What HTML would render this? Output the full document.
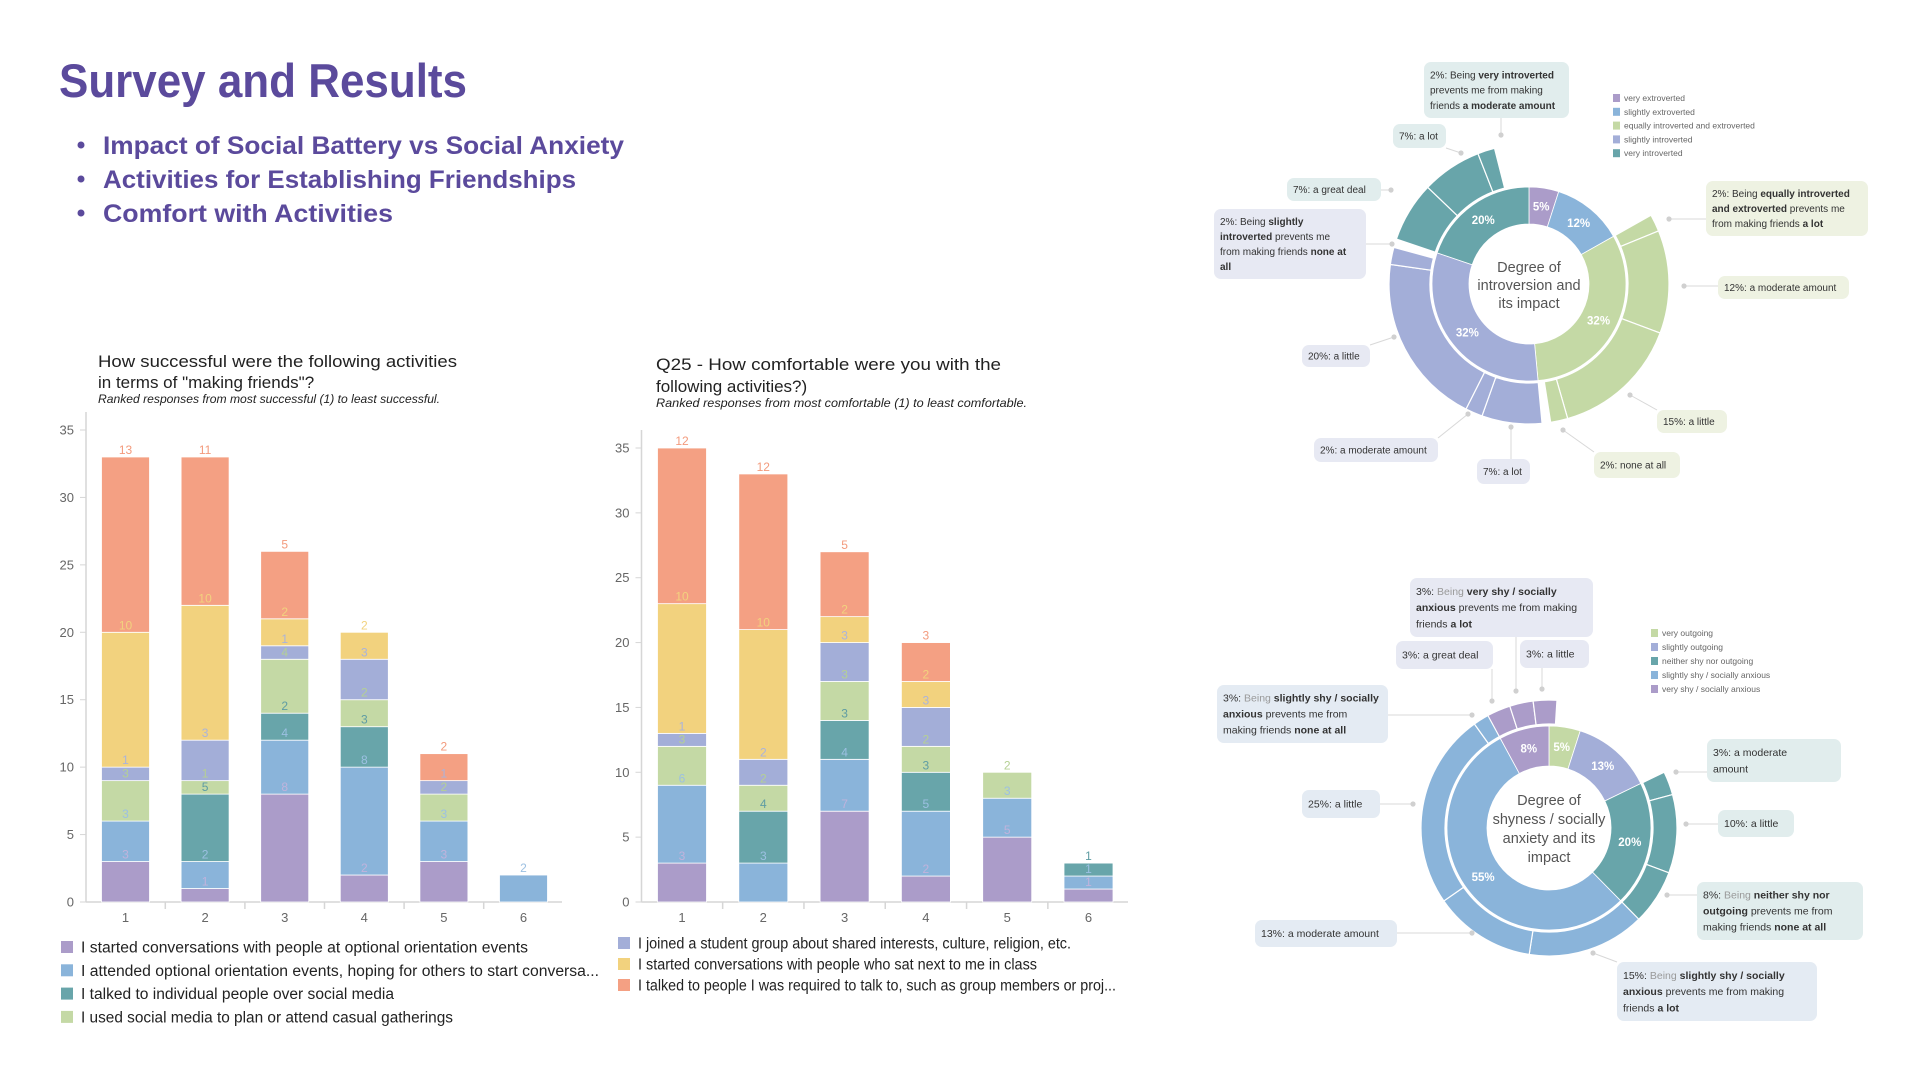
<!DOCTYPE html>
<html><head><meta charset="utf-8"><style>
html,body{margin:0;padding:0;background:#fff;}
svg{display:block;font-family:"Liberation Sans",sans-serif;}
</style></head><body>
<svg id="root" width="1920" height="1080" viewBox="0 0 1920 1080" xmlns="http://www.w3.org/2000/svg">
<g>
<text x="59" y="97" font-size="47" font-weight="bold" fill="#5b4a9c" textLength="408" lengthAdjust="spacingAndGlyphs">Survey and Results</text>
<circle cx="81" cy="145" r="3.5" fill="#5b4a9c"/>
<text x="103" y="154" font-size="25" font-weight="bold" fill="#5b4a9c" textLength="521" lengthAdjust="spacingAndGlyphs">Impact of Social Battery vs Social Anxiety</text>
<circle cx="81" cy="179" r="3.5" fill="#5b4a9c"/>
<text x="103" y="188" font-size="25" font-weight="bold" fill="#5b4a9c" textLength="473" lengthAdjust="spacingAndGlyphs">Activities for Establishing Friendships</text>
<circle cx="81" cy="213" r="3.5" fill="#5b4a9c"/>
<text x="103" y="222" font-size="25" font-weight="bold" fill="#5b4a9c" textLength="290" lengthAdjust="spacingAndGlyphs">Comfort with Activities</text>
</g>
<g>
<text x="98" y="367" font-size="17" fill="#222" textLength="359" lengthAdjust="spacingAndGlyphs">How successful were the following activities</text>
<text x="98" y="388" font-size="17" fill="#222">in terms of "making friends"?</text>
<text x="98" y="403" font-size="12" font-style="italic" fill="#222" textLength="342" lengthAdjust="spacingAndGlyphs">Ranked responses from most successful (1) to least successful.</text>
<g id="chartA"></g>
</g>
<g>
<text x="656" y="370" font-size="17" fill="#222" textLength="345" lengthAdjust="spacingAndGlyphs">Q25 - How comfortable were you with the</text>
<text x="656" y="392" font-size="17" fill="#222">following activities?)</text>
<text x="656" y="407" font-size="12" font-style="italic" fill="#222" textLength="371" lengthAdjust="spacingAndGlyphs">Ranked responses from most comfortable (1) to least comfortable.</text>
<g id="chartB"></g>
</g>
<g id="donut1"></g>
<g id="donut2"></g>
</svg>
<script>
const NS="http://www.w3.org/2000/svg";
// ---------- bar chart data ----------
const categories=["1","2","3","4","5","6"];
const seriesNames=["started-conversations-orientation","attended-orientation","talked-social-media","social-media-gatherings","joined-student-group","sat-next-in-class","required-to-talk"];
const yTicks=[0,5,10,15,20,25,30,35];
// Success chart series values (per rank 1..6), stacked bottom-up
const succStarted=[3,1,8,2,3,0];
const succAttended=[3,2,4,8,3,2];
const succTalkedSM=[0,5,2,3,0,0];
const succGatherSM=[3,1,4,2,2,0];
const succGroup=[1,3,1,3,1,0];
const succSatNext=[10,10,2,2,0,0];
const succRequired=[13,11,5,0,2,0];
// Comfort chart series values
const comfStarted=[3,0,7,2,5,1];
const comfAttended=[6,3,4,5,3,1];
const comfTalkedSM=[0,4,3,3,0,1];
const comfGatherSM=[3,2,3,2,2,0];
const comfGroup=[1,2,3,3,0,0];
const comfSatNext=[10,10,2,2,0,0];
const comfRequired=[12,12,5,3,0,0];
const legendA=["I started conversations with people at optional orientation events","I attended optional orientation events, hoping for others to start conversa...","I talked to individual people over social media","I used social media to plan or attend casual gatherings"];
const legendB=["I joined a student group about shared interests, culture, religion, etc.","I started conversations with people who sat next to me in class","I talked to people I was required to talk to, such as group members or proj..."];

const COLORS=["#ab9cc9","#8ab4da","#68a5aa","#c4d9a5","#a3aed8","#f2d27e","#f4a083"];
const LABELC=["#c0b3dc","#9cc0e2","#5e9ca3","#b5d094","#a9b3dc","#f2d27e","#f39a7c"];

function el(tag,attrs,parent){const e=document.createElementNS(NS,tag);for(const k in attrs)e.setAttribute(k,attrs[k]);parent.appendChild(e);return e;}

function barChart(g,series,cfg,legend,legendIdx,legendW){
  const y=v=>cfg.y0-(v/35)*(cfg.y0-cfg.y35);
  const x=i=>cfg.c0+i*cfg.step;
  const ax=el('line',{x1:cfg.ax,y1:cfg.y35-18,x2:cfg.ax,y2:cfg.y0,stroke:'#d6d6d6','stroke-width':1.5},g);
  
  const bx=el('line',{x1:cfg.ax,y1:cfg.y0,x2:cfg.axEnd,y2:cfg.y0,stroke:'#d6d6d6','stroke-width':1.5},g);
  
  yTicks.forEach(t=>{
    const tk=el('line',{x1:cfg.ax-6,y1:y(t),x2:cfg.ax,y2:y(t),stroke:'#d6d6d6'},g);
    
    const tl=el('text',{x:cfg.ax-12,y:y(t)+4.5,'font-size':13,fill:'#666','text-anchor':'end'},g);
    tl.textContent=t;
    
  });
  categories.forEach((c,i)=>{
    if(i>0){const tk=el('line',{x1:x(i)-cfg.step/2,y1:cfg.y0,x2:x(i)-cfg.step/2,y2:cfg.y0+7,stroke:'#d6d6d6','stroke-width':1.5},g);
      }
    const tl=el('text',{x:x(i),y:cfg.y0+20,'font-size':13,fill:'#666','text-anchor':'middle'},g);
    tl.textContent=c;
    
  });
  const labels=[];
  categories.forEach((c,i)=>{
    let acc=0;
    series.forEach((s,si)=>{
      const v=s[i]; if(!v) return;
      const top=acc+v;
      const r=el('rect',{x:x(i)-cfg.w/2,y:y(top),width:cfg.w,height:y(acc)-y(top),fill:COLORS[si],stroke:'#fff','stroke-width':0.8},g);
      
      
      labels.push([x(i),y(top)-3,v,si]);
      acc=top;
    });
  });
  labels.forEach(L=>{
    const t=el('text',{x:L[0],y:L[1],'font-size':12,fill:LABELC[L[3]],'text-anchor':'middle'},g);
    t.textContent=L[2];
    
    
  });
  legend.forEach((L,k)=>{
    const ly=cfg.legY+k*cfg.legStep;
    const sq=el('rect',{x:cfg.legX,y:ly-6,width:12,height:12,fill:COLORS[legendIdx[k]]},g);
    
    const t=el('text',{x:cfg.legX+20,y:ly+5.5,'font-size':15.5,fill:'#222',textLength:legendW[k],lengthAdjust:'spacingAndGlyphs'},g);
    t.textContent=L;
    
  });
}
barChart(document.getElementById('chartA'),[succStarted,succAttended,succTalkedSM,succGatherSM,succGroup,succSatNext,succRequired],
 {y0:902,y35:430,ax:86,axEnd:562,c0:125.5,step:79.6,w:48,legX:61,legY:947,legStep:23.3},legendA,[0,1,2,3],[447,518,313,372]);
barChart(document.getElementById('chartB'),[comfStarted,comfAttended,comfTalkedSM,comfGatherSM,comfGroup,comfSatNext,comfRequired],
 {y0:902,y35:448,ax:641.5,axEnd:1128,c0:682,step:81.3,w:49,legX:618,legY:943,legStep:21},legendB,[4,5,6],[433,399,478]);

// ---------- donut data ----------
const d1InnerLabels=["very extroverted","slightly extroverted","equally introverted and extroverted","slightly introverted","very introverted"];
const d1InnerPct=[5,12,32,32,20];
const d1OuterGreen=[2,12,15,2];
const d1OuterLav=[7,2,20,2];
const d1OuterTeal=[7,7,2];
const d2InnerLabels=["very outgoing","slightly outgoing","neither shy nor outgoing","slightly shy / socially anxious","very shy / socially anxious"];
const d2InnerPct=[5,13,20,55,8];
const d2OuterTeal=[3,10,8];
const d2OuterBlue=[15,13,25,3];
const d2OuterPurple=[3,3,3];

function pt(cx,cy,r,a){const t=a*Math.PI/180;return [cx+r*Math.sin(t),cy-r*Math.cos(t)];}
function arc(cx,cy,r0,r1,a0,a1){
  const p1=pt(cx,cy,r1,a0),p2=pt(cx,cy,r1,a1),p3=pt(cx,cy,r0,a1),p4=pt(cx,cy,r0,a0);
  const lg=(a1-a0)>180?1:0;
  return `M${p1}A${r1},${r1} 0 ${lg} 1 ${p2}L${p3}A${r0},${r0} 0 ${lg} 0 ${p4}Z`;
}
function donut(g,cfg){
  const tot=cfg.inner.reduce((a,b)=>a+b,0);const k=360/tot;
  const starts=[];let a=0;
  cfg.inner.forEach((p,i)=>{starts.push(a);
    const s=el('path',{d:arc(cfg.cx,cfg.cy,cfg.rh,cfg.rm,a,a+p*k),fill:cfg.colors[i],stroke:'#fff','stroke-width':0.8},g);
    
    
    const m=pt(cfg.cx,cfg.cy,(cfg.rh+cfg.rm)/2,a+p*k/2);
    const t=el('text',{x:m[0],y:m[1]+4,'font-size':11.5,'font-weight':'bold',fill:'#fff','text-anchor':'middle'},g);
    t.textContent=p+'%';
    
    a+=p*k;});
  cfg.outer.forEach(o=>{
    let b=starts[o.parent];
    o.vals.forEach(v=>{
      const s=el('path',{d:arc(cfg.cx,cfg.cy,cfg.rm+2,cfg.ro,b,b+v*k),fill:cfg.colors[o.parent],stroke:'#fff','stroke-width':1.2},g);
      
      
      b+=v*k;});
  });
  const c=el('circle',{cx:cfg.cx,cy:cfg.cy,r:cfg.rm+1,fill:'none',stroke:'#fff','stroke-width':1.5},g);
  
  cfg.center.forEach((l,i)=>{
    const t=el('text',{x:cfg.cx,y:cfg.cy+cfg.cy0+i*cfg.clh,'font-size':cfg.cfs,fill:'#555','text-anchor':'middle'},g);
    t.textContent=l;
  });
  cfg.names.forEach((n,i)=>{
    const ly=cfg.legY+i*cfg.legStep;
    const sq=el('rect',{x:cfg.legX,y:ly-4,width:7,height:8,fill:cfg.colors[cfg.legOrder[i]]},g);
    
    const t=el('text',{x:cfg.legX+11,y:ly+3,'font-size':8.5,fill:'#666'},g);
    t.textContent=cfg.names[cfg.legOrder[i]];
  });
  cfg.callouts.forEach(co=>{
    const [bx,by,bw,bh]=co.box;
    const qx=Math.max(bx,Math.min(co.dot[0],bx+bw)),qy=Math.max(by,Math.min(co.dot[1],by+bh));
    const ln=el('line',{x1:co.dot[0],y1:co.dot[1],x2:qx,y2:qy,stroke:'#d8d8d8','stroke-width':1},g);
    
    const d=el('circle',{cx:co.dot[0],cy:co.dot[1],r:2.6,fill:'#d0d0d0'},g);
    
    const r=el('rect',{x:bx,y:by,width:bw,height:bh,rx:7,fill:co.fill},g);
    
    const n=co.lines.length;const lh=n>1?(bh-10)/n:0;
    co.lines.forEach((line,li)=>{
      const t=el('text',{x:bx+6,y:(n>1?by+5+lh*(li+0.5)+3.6:by+bh/2+3.6),'font-size':cfg.cofs,fill:'#333'},g);
      line.forEach(seg=>{const s=el('tspan',{'font-weight':seg[1]===1?'bold':'normal',fill:seg[1]===2?'#999':'#333'},t);s.textContent=seg[0];});
      
    });
  });
}
const TEALB='#e1eded',LAVB='#e7e9f3',GRNB='#eef2e2',BLUB='#e4ebf3';
donut(document.getElementById('donut1'),{cx:1529,cy:284,rh:60,rm:97,ro:140,
 inner:d1InnerPct,names:d1InnerLabels,colors:["#ab9cc9","#8ab4da","#c4d9a5","#a3aed8","#68a5aa"],
 outer:[{parent:2,vals:d1OuterGreen},{parent:3,vals:d1OuterLav},{parent:4,vals:d1OuterTeal}],
 center:["Degree of","introversion and","its impact"],cy0:-12,clh:18,cfs:14.5,
 legX:1613,legY:98,legStep:13.8,legOrder:[0,1,2,3,4],cofs:10,
 callouts:[
 {box:[1424,62,145,56],dot:[1501,135],fill:TEALB,lines:[[["2%: Being ",0],["very introverted",1]],[["prevents me from making",0]],[["friends ",0],["a moderate amount",1]]]},
 {box:[1393,124,53,24],dot:[1461,153],fill:TEALB,lines:[[["7%: a lot",0]]]},
 {box:[1287,178,94,23],dot:[1391,190],fill:TEALB,lines:[[["7%: a great deal",0]]]},
 {box:[1214,209,152,70],dot:[1392,244],fill:LAVB,lines:[[["2%: Being ",0],["slightly",1]],[["introverted",1],[" prevents me",0]],[["from making friends ",0],["none at",1]],[["all",1]]]},
 {box:[1302,345,68,22],dot:[1394,337],fill:LAVB,lines:[[["20%: a little",0]]]},
 {box:[1314,438,124,24],dot:[1468,414],fill:LAVB,lines:[[["2%: a moderate amount",0]]]},
 {box:[1477,459,53,25],dot:[1511,427],fill:LAVB,lines:[[["7%: a lot",0]]]},
 {box:[1594,452,86,26],dot:[1563,430],fill:GRNB,lines:[[["2%: none at all",0]]]},
 {box:[1657,410,70,23],dot:[1630,395],fill:GRNB,lines:[[["15%: a little",0]]]},
 {box:[1718,276,131,23],dot:[1684,286],fill:GRNB,lines:[[["12%: a moderate amount",0]]]},
 {box:[1706,181,162,55],dot:[1669,219],fill:GRNB,lines:[[["2%: Being ",0],["equally introverted",1]],[["and extroverted",1],[" prevents me",0]],[["from making friends ",0],["a lot",1]]]}
 ]});
donut(document.getElementById('donut2'),{cx:1549,cy:828,rh:62,rm:102,ro:128,
 inner:d2InnerPct,names:d2InnerLabels,colors:["#c4d9a5","#a3aed8","#68a5aa","#8ab4da","#ab9cc9"],
 outer:[{parent:2,vals:d2OuterTeal},{parent:3,vals:d2OuterBlue},{parent:4,vals:d2OuterPurple}],
 center:["Degree of","shyness / socially","anxiety and its","impact"],cy0:-23,clh:19,cfs:14.5,
 legX:1651,legY:633,legStep:14,legOrder:[0,1,2,3,4],cofs:10.5,
 callouts:[
 {box:[1410,578,183,59],dot:[1516,691],fill:LAVB,lines:[[["3%: ",0],["Being ",2],["very shy / socially",1]],[["anxious",1],[" prevents me from making",0]],[["friends ",0],["a lot",1]]]},
 {box:[1396,641,97,28],dot:[1492,701],fill:LAVB,lines:[[["3%: a great deal",0]]]},
 {box:[1520,640,69,28],dot:[1542,689],fill:LAVB,lines:[[["3%: a little",0]]]},
 {box:[1217,685,171,58],dot:[1472,715],fill:BLUB,lines:[[["3%: ",0],["Being ",2],["slightly shy / socially",1]],[["anxious",1],[" prevents me from",0]],[["making friends ",0],["none at all",1]]]},
 {box:[1302,790,78,28],dot:[1413,804],fill:BLUB,lines:[[["25%: a little",0]]]},
 {box:[1255,920,142,27],dot:[1472,933],fill:BLUB,lines:[[["13%: a moderate amount",0]]]},
 {box:[1617,962,200,59],dot:[1593,953],fill:BLUB,lines:[[["15%: ",0],["Being ",2],["slightly shy / socially",1]],[["anxious",1],[" prevents me from making",0]],[["friends ",0],["a lot",1]]]},
 {box:[1697,882,166,58],dot:[1667,895],fill:TEALB,lines:[[["8%: ",0],["Being ",2],["neither shy nor",1]],[["outgoing",1],[" prevents me from",0]],[["making friends ",0],["none at all",1]]]},
 {box:[1718,810,76,27],dot:[1686,824],fill:TEALB,lines:[[["10%: a little",0]]]},
 {box:[1707,739,134,43],dot:[1676,772],fill:TEALB,lines:[[["3%: a moderate",0]],[["amount",0]]]}
 ]});
</script>
</body></html>
